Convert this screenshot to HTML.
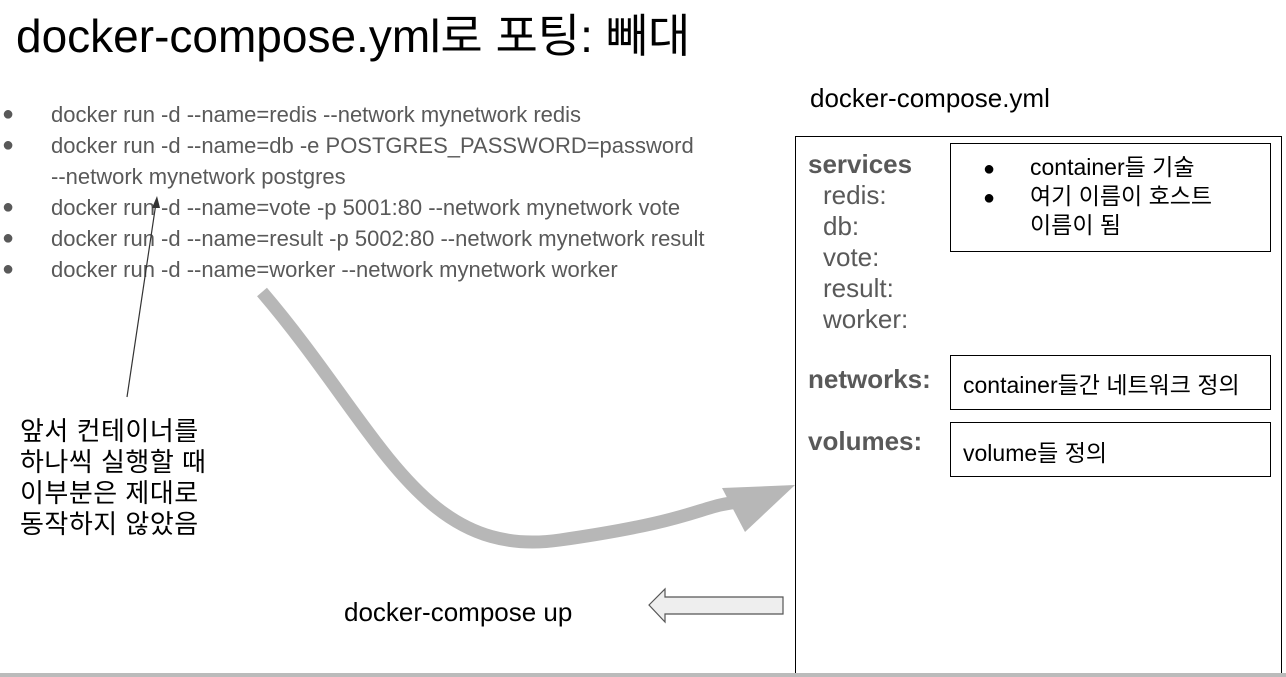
<!DOCTYPE html>
<html><head><meta charset="utf-8"><style>
html,body{margin:0;width:1286px;height:677px;overflow:hidden;}
body{background:#fff;position:relative;font-family:"Liberation Sans","Noto Sans CJK KR",sans-serif;}
.a{position:absolute;white-space:nowrap;}
.g{color:#595959;font-size:22px;}
.g div{height:31px;line-height:31px;overflow:visible;}
.b{display:inline-block;width:49px;padding-left:2px;font-size:20px;vertical-align:top;}
.box{position:absolute;border:1.5px solid #000;box-sizing:border-box;}
</style></head><body>
<div class="a" style="left:16px;top:0px;font-size:46px;color:#000;">docker-compose.yml로 포팅: 빼대</div>

<div class="a g" style="left:0;top:99px;">
<div><span class="b">●</span>docker run -d --name=redis --network mynetwork redis</div>
<div><span class="b">●</span>docker run -d --name=db -e POSTGRES_PASSWORD=password</div>
<div><span class="b"></span>--network mynetwork postgres</div>
<div><span class="b">●</span>docker run -d --name=vote -p 5001:80 --network mynetwork vote</div>
<div><span class="b">●</span>docker run -d --name=result -p 5002:80 --network mynetwork result</div>
<div><span class="b">●</span>docker run -d --name=worker --network mynetwork worker</div>
</div>

<div class="a" style="left:20px;top:416px;font-size:26px;line-height:31px;color:#000;letter-spacing:0.5px">앞서 컨테이너를<br>하나씩 실행할 때<br>이부분은 제대로<br>동작하지 않았음</div>

<div class="a" style="left:810px;top:83px;font-size:26px;color:#000;">docker-compose.yml</div>
<div class="a" style="left:344px;top:597px;font-size:26px;color:#000;">docker-compose up</div>

<div class="box" style="left:795px;top:136px;width:487px;height:560px;"></div>
<div class="a" style="left:808px;top:149px;font-size:26px;line-height:31px;color:#595959;">
<b>services</b><br><span style="padding-left:15px">redis:</span><br><span style="padding-left:15px">db:</span><br><span style="padding-left:15px">vote:</span><br><span style="padding-left:15px">result:</span><br><span style="padding-left:15px">worker:</span></div>
<div class="a" style="left:808px;top:364px;font-size:26px;color:#595959;font-weight:bold;">networks:</div>
<div class="a" style="left:808px;top:426px;font-size:26px;color:#595959;font-weight:bold;">volumes:</div>

<div class="box" style="left:950px;top:143px;width:321px;height:109px;"></div>
<div class="a" style="left:983px;top:154px;font-size:23px;line-height:27px;color:#000;">
<div><span style="display:inline-block;width:47px;font-size:20px">●</span>container들 기술</div>
<div><span style="display:inline-block;width:47px;font-size:20px">●</span>여기 이름이 호스트</div>
<div><span style="display:inline-block;width:47px"></span>이름이 됨</div></div>
<div class="box" style="left:950px;top:355px;width:321px;height:55px;"></div>
<div class="a" style="left:963px;top:366px;font-size:23px;color:#000;">container들간 네트워크 정의</div>
<div class="box" style="left:950px;top:422px;width:321px;height:55px;"></div>
<div class="a" style="left:963px;top:434px;font-size:23px;color:#000;">volume들 정의</div>

<svg width="1286" height="677" style="position:absolute;left:0;top:0">
<path d="M262 292 C 380 430, 420 560, 560 540 S 700 505, 740 502" fill="none" stroke="#b7b7b7" stroke-width="13"/>
<polygon points="722,488 795,485 745,532" fill="#b7b7b7"/>
<line x1="127" y1="397" x2="156" y2="203" stroke="#333" stroke-width="1.2"/>
<polygon points="157,196 152,208 160,208" fill="#333"/>
<polygon points="649,605 665,589 665,597 783,597 783,614 665,614 665,622" fill="#eee" stroke="#555" stroke-width="1.2"/>
<rect x="0" y="673" width="1286" height="4" fill="#bbb"/>
</svg>
</body></html>
